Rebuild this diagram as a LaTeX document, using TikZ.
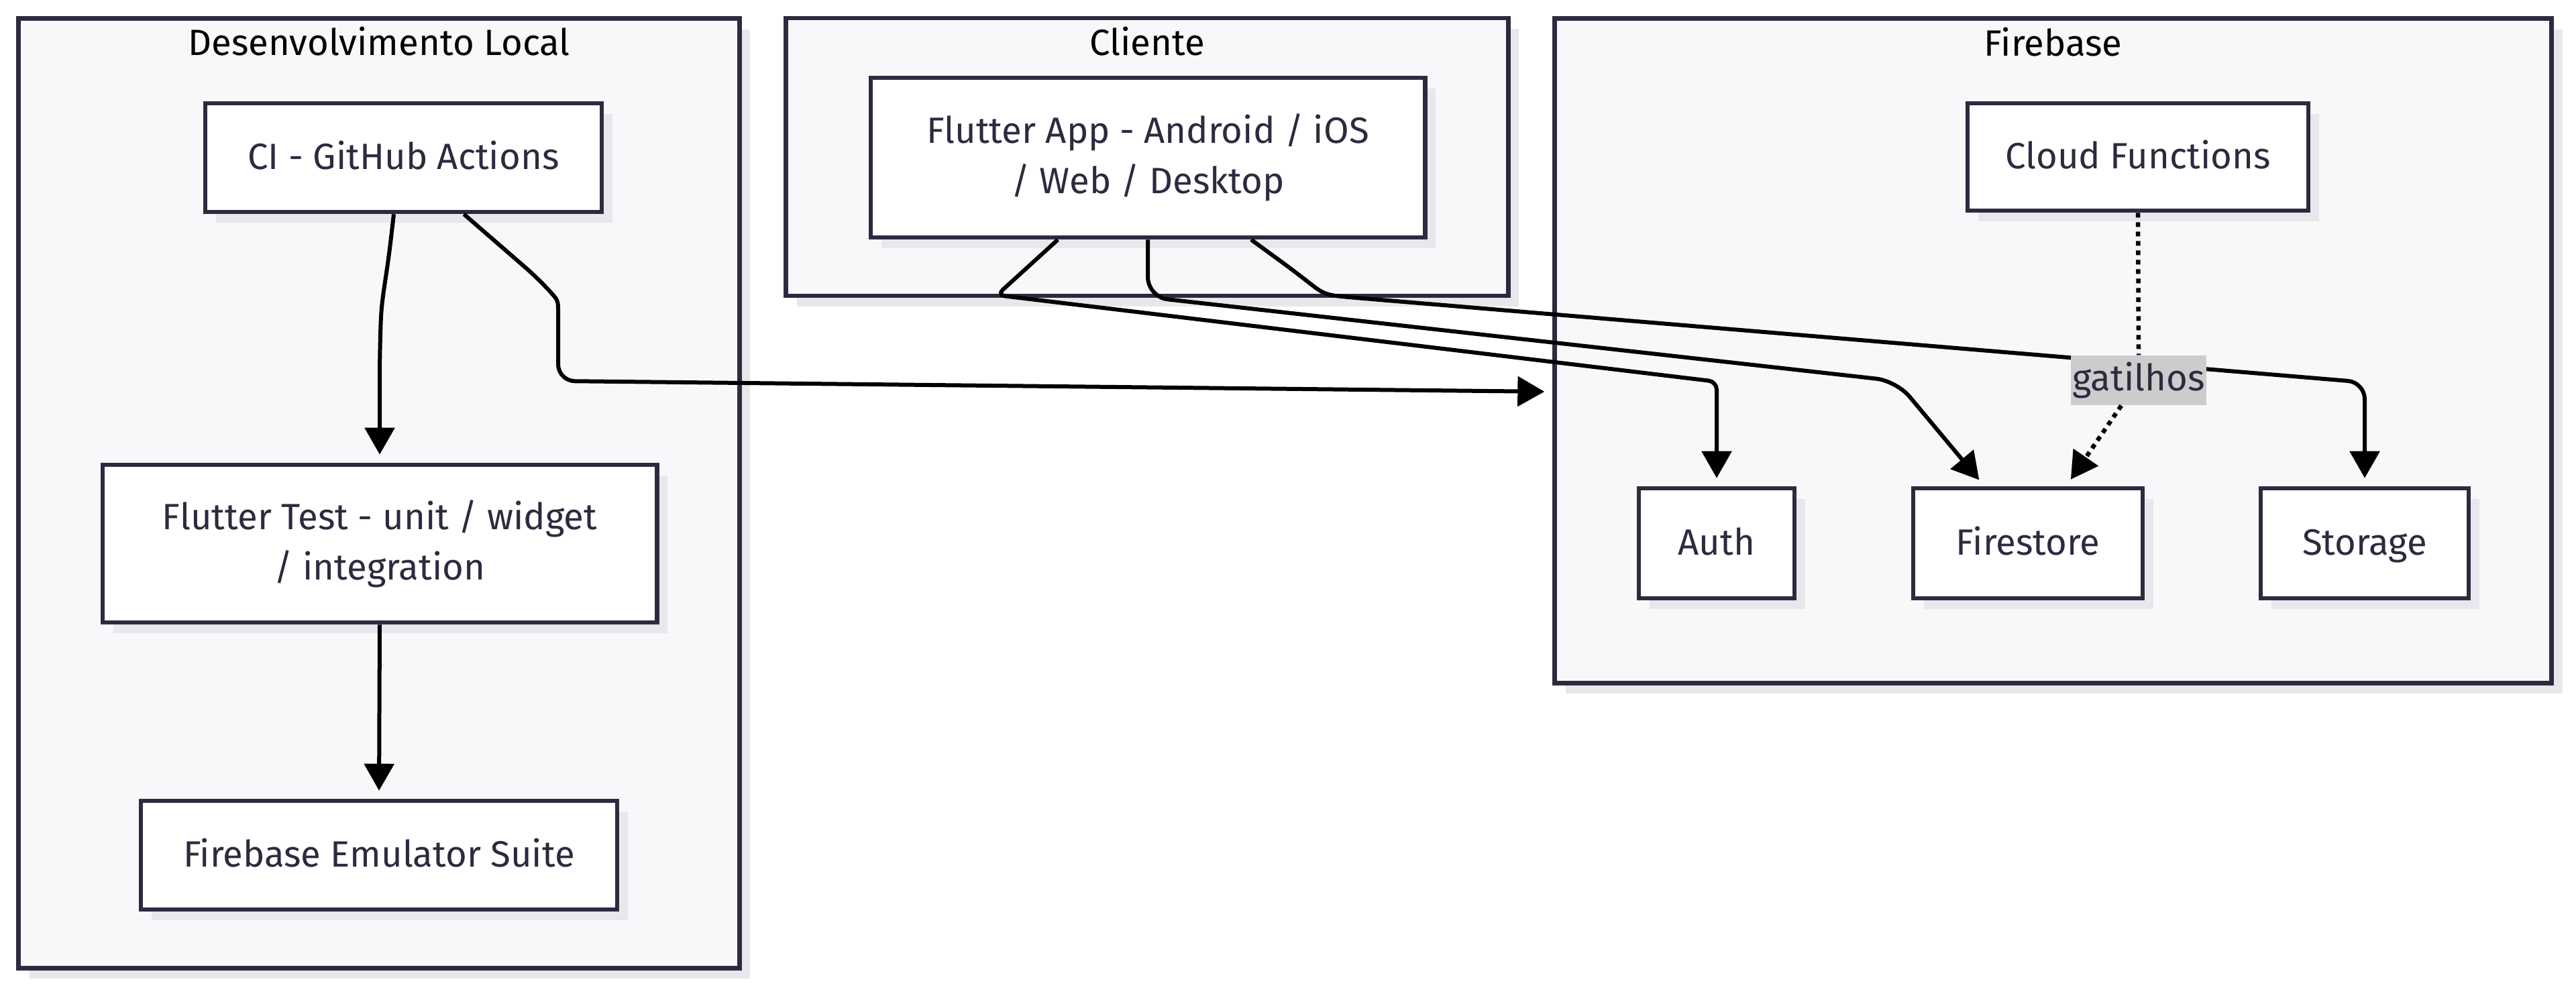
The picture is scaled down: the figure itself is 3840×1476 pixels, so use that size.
\documentclass[tikz,border=0pt]{standalone}
\usepackage{fontspec}
\setmainfont{Fira Sans}
\usetikzlibrary{arrows.meta,shadows}
\definecolor{boxline}{HTML}{2B2B40}
\definecolor{boxtext}{HTML}{2B2B40}
\definecolor{groupfill}{HTML}{F8F8FA}
\definecolor{shadowgrey}{HTML}{E8E8EC}
\definecolor{labelgrey}{HTML}{CCCCCC}
\tikzset{
  shade box/.style={drop shadow={shadow xshift=0.16cm, shadow yshift=-0.16cm, fill=shadowgrey, opacity=1}},
  group/.style={draw=boxline, fill=groupfill, line width=0.065cm, inner sep=0pt, shade box},
  grouptitle/.style={text=black, inner sep=0pt, anchor=base, font=\fontsize{15.5}{18}\selectfont},
  box/.style={draw=boxline, fill=white, line width=0.065cm, text=boxtext, align=center, inner sep=0pt,
    font=\fontsize{15.5}{21.3}\selectfont, shade box},
  oneline/.style={text height=0.42cm, text depth=0.08cm},
  link/.style={line width=0.06cm, -{Triangle[length=0.40cm,width=0.44cm]}, shorten >=0.12cm, rounded corners=0.25cm},
  trigger/.style={line width=0.065cm, dash pattern=on 0.07cm off 0.07cm},
  tag/.style={fill=labelgrey, text=boxtext, inner sep=0pt, minimum width=2.02cm, minimum height=0.74cm,
    text height=0.40cm, text depth=0.1cm, font=\fontsize{15.5}{18}\selectfont}
}

\begin{document}
\begin{tikzpicture}[x=0.01cm, y=-0.01cm]
		%%%%% START %%%%%
		\useasboundingbox (0, 0) rectangle (3840, 1476);
		
		\node[group, minimum width=10.74cm, minimum height=14.15cm] (dev) at (565, 735.5) {};
		\node[group, minimum width=10.76cm, minimum height=4.14cm] (cli) at (1710, 234) {};
		\node[group, minimum width=14.85cm, minimum height=9.90cm] (fb) at (3060.5, 523) {};
		
		\node[grouptitle] (devtitle) at ([yshift=-0.58cm]dev.north) {Desenvolvimento Local};
		\node[grouptitle] (clititle) at ([yshift=-0.59cm]cli.north) {Cliente};
		\node[grouptitle] (fbtitle) at ([yshift=-0.59cm]fb.north) {Firebase};
		
		\node[box, oneline, minimum width=5.91cm, minimum height=1.62cm] (ci) at (601.5, 235) {CI - GitHub Actions};
		\node[box, minimum width=8.26cm, minimum height=2.35cm] (test) at (566, 810.5) {Flutter Test - unit / widget\\/ integration};
		\node[box, oneline, minimum width=7.10cm, minimum height=1.62cm] (emu) at (565, 1275) {Firebase Emulator Suite};
		
		\node[box, minimum width=8.26cm, minimum height=2.38cm] (app) at (1711, 235) {Flutter App - Android / iOS\\/ Web / Desktop};
		
		\node[box, oneline, minimum width=5.08cm, minimum height=1.60cm] (cf) at (3187, 234) {Cloud Functions};
		\node[box, oneline, minimum width=2.32cm, minimum height=1.64cm] (auth) at (2559, 810) {Auth};
		\node[box, oneline, minimum width=3.42cm, minimum height=1.64cm] (fs) at (3023, 810) {Firestore};
		\node[box, oneline, minimum width=3.10cm, minimum height=1.64cm] (stor) at (3525, 810) {Storage};
		
		\draw[link] ([xshift=-0.145cm]ci.south) -- (580, 380) .. controls (568, 460) .. (566, 540) -- (test.north);
		\draw[link] (test.south) -- (emu.north);
		\draw[link] ([xshift=0.9cm]ci.south) -- (803, 416) .. controls (832, 448) .. (832, 490) -- (832, 568) -- ([yshift=-0.61cm]fb.west);
		
		\draw[link, rounded corners=0.12cm] ([xshift=-1.34cm]app.south) -- (1486, 440) -- (2559, 569) -- (auth.north);
		\draw[link, rounded corners=0.3cm] (app.south) -- (1711, 443) -- (2827, 568) -- ([xshift=-0.65cm]fs.north);
		\draw[link] ([xshift=1.54cm]app.south) -- (1929, 404) .. controls (1975, 440) .. (2045, 446) -- (3525, 570) -- (stor.north);
		
		\node[tag] (gat) at (3188, 567) {gatilhos};
		\draw[trigger] (cf.south) -- (gat.north);
		\draw[trigger, -{Triangle[length=0.40cm,width=0.44cm]}, shorten >=0.12cm] (gat) -- ([xshift=0.57cm]fs.north);
		%%%%% END %%%%%
\end{tikzpicture}
\end{document}
